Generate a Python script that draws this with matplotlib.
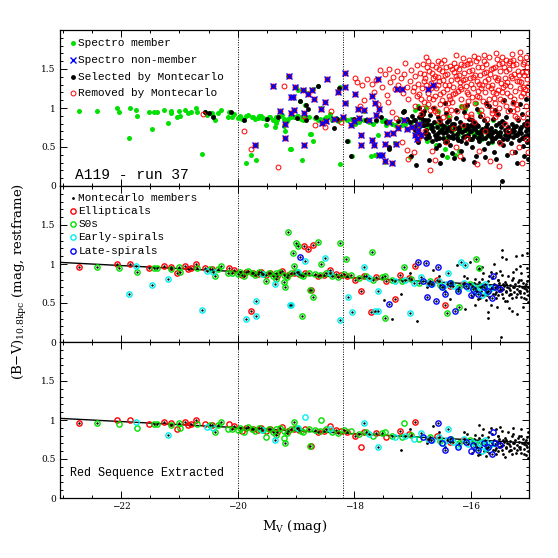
import matplotlib
matplotlib.use('Agg')
import matplotlib.pyplot as plt
from matplotlib.ticker import MultipleLocator, FixedLocator, FormatStrFormatter
import numpy as np

plt.rcParams['font.family'] = 'DejaVu Serif'
plt.rcParams['mathtext.fontset'] = 'dejavuserif'
MONO = 'Liberation Mono'

# spectroscopic members by morphological type (M_V, B-V)
E_mv = [-22.73, -22.08, -21.84, -21.52, -21.27, -21.14, -21.05, -20.90, -20.86, -20.80,
        -20.72, -20.56, -20.44, -20.15, -20.06, -19.92, -19.86, -19.74, -19.66, -19.60,
        -19.52, -19.44, -19.33, -19.24, -19.14, -19.03, -18.95, -18.84, -18.62, -18.52,
        -18.41, -18.31, -18.22, -18.12, -17.98, -17.84, -17.62, -17.46, -17.21, -17.06,
        -16.96, -16.72, -16.58, -16.36, -16.14, -19.78, -18.87, -18.79, -18.71, -18.75,
        -17.89, -17.72, -17.30, -16.45]
E_bv = [0.966, 0.995, 0.995, 0.944, 0.974, 0.960, 0.890, 0.978, 0.930, 0.950,
        1.000, 0.950, 0.940, 0.950, 0.920, 0.860, 0.900, 0.880, 0.870, 0.900,
        0.860, 0.890, 0.840, 0.910, 0.860, 0.880, 0.870, 0.890, 0.850, 0.860,
        0.920, 0.870, 0.860, 0.840, 0.800, 0.850, 0.830, 0.780, 0.860, 0.820,
        0.980, 0.760, 0.790, 0.720, 0.740, 0.395, 1.230, 1.190, 1.240, 0.667,
        0.654, 0.390, 0.547, 0.474]
E_dot = "1000100101" "1010101101" "0110101011" "0101101010" "1101010000" "0000"

S0_mv = [-22.41, -22.03, -21.73, -21.43, -21.39, -21.15, -21.01, -20.99, -20.70, -20.48,
         -20.39, -20.33, -20.28, -20.16, -20.09, -20.00, -19.96, -19.90, -19.82, -19.76,
         -19.70, -19.63, -19.56, -19.47, -19.40, -19.35, -19.28, -19.20, -19.16, -19.08,
         -18.99, -18.92, -18.88, -18.78, -18.68, -18.58, -18.48, -18.38, -18.28, -18.18,
         -18.06, -17.92, -17.80, -17.68, -17.52, -17.35, -17.18, -17.02, -16.88, -16.70,
         -16.52, -16.34, -16.20, -16.02, -15.92, -15.80, -15.70, -19.13, -19.00, -18.97,
         -18.63, -19.05, -18.57, -19.04, -19.20, -19.19, -18.90, -18.71, -18.25, -18.14,
         -17.70, -17.47, -17.47, -17.15, -16.40, -16.20, -15.91, -15.85, -19.51, -19.35,
         -18.76]
S0_bv = [0.966, 0.944, 0.893, 0.944, 0.944, 0.930, 0.960, 0.900, 0.944, 0.930,
         0.846, 0.930, 0.970, 0.890, 0.890, 0.870, 0.900, 0.850, 0.910, 0.880,
         0.860, 0.900, 0.870, 0.890, 0.850, 0.880, 0.900, 0.860, 0.830, 0.880,
         0.900, 0.860, 0.850, 0.880, 0.870, 0.860, 0.880, 0.850, 0.830, 0.870,
         0.860, 0.820, 0.850, 0.800, 0.830, 0.800, 0.780, 0.810, 0.760, 0.780,
         0.730, 0.760, 0.700, 0.740, 0.690, 0.720, 0.660, 1.410, 1.265, 1.230,
         1.280, 1.140, 0.996, 0.980, 0.770, 0.710, 0.330, 0.577, 1.270, 1.060,
         1.158, 0.310, 0.840, 0.960, 0.376, 0.450, 1.060, 0.950, 0.780, 0.810,
         0.666]
S0_dot = "1001111001" "1110101011" "0101101011" "1001101011" "0110110101" \
         "1010101100" "0001010000" "0000000001" "1"

ES_mv = [-21.86, -21.75, -21.47, -21.20, -20.62, -20.52, -20.42, -19.86, -19.69, -19.69,
         -19.36, -19.10, -19.09, -18.85, -18.50, -18.25, -18.10, -18.03, -17.84, -17.65,
         -17.59, -17.59, -17.04, -16.39, -16.17, -16.10, -15.80, -19.58, -18.96, -18.42,
         -17.75, -17.30, -17.12, -16.98, -16.86, -16.74, -16.66, -16.55, -16.48, -16.40,
         -16.30, -16.22, -16.12, -16.05, -15.98, -15.90, -15.84, -15.76, -15.72, -15.66]
ES_bv = [0.615, 0.975, 0.735, 0.810, 0.410, 0.910, 0.900, 0.290, 0.333, 0.520,
         0.750, 0.475, 0.480, 1.040, 1.080, 0.280, 0.580, 0.390, 0.960, 0.400,
         0.400, 0.660, 0.376, 0.880, 1.030, 0.990, 0.600, 0.870, 0.900, 0.880,
         0.820, 0.780, 0.800, 0.760, 0.830, 0.760, 0.740, 0.780, 0.700, 0.750,
         0.720, 0.680, 0.760, 0.690, 0.720, 0.650, 0.700, 0.740, 0.640, 0.690]
ES_dot = "0001000010" "1010101011" "0101010110" "1010110101" "1011010110"

LS_mv = [-18.93, -17.40, -16.90, -16.76, -16.57, -16.75, -16.60, -16.27, -15.61, -15.50,
         -15.63, -16.82, -16.68, -16.50, -16.36, -16.22, -16.08, -15.96, -15.88, -15.78,
         -15.70, -15.58, -16.44, -16.00]
LS_bv = [1.086, 0.490, 1.030, 1.010, 0.966, 0.573, 0.526, 0.397, 0.840, 0.680,
         0.570, 0.780, 0.740, 0.700, 0.760, 0.650, 0.720, 0.680, 0.620, 0.700,
         0.660, 0.710, 0.620, 0.600]
LS_dot = "0000100100" "1010101010" "1010"

# spectroscopic non-members
non_mv = [-19.70, -19.40, -19.28, -19.19, -19.18, -19.12, -19.09, -19.09, -19.01, -18.885,
          -18.73, -18.79, -19.045, -18.69, -18.50, -18.57, -19.03, -18.86, -18.87, -18.47,
          -18.49, -18.55, -18.15, -18.28, -18.15, -17.98, -18.15, -17.59, -17.70, -17.64,
          -17.57, -17.94, -17.83, -17.63, -17.26, -17.18, -16.73, -16.65, -17.88, -17.89,
          -17.70, -17.66, -17.48, -17.58, -17.52, -17.47, -17.35, -17.28, -17.43, -17.33,
          -17.25, -17.10, -16.96, -16.92, -18.06, -18.19, -18.00, -17.75, -17.40, -17.00,
          -16.90, -16.85, -18.35, -17.92, -17.15, -16.88]
non_bv = [0.525, 1.280, 0.965, 0.790, 0.620, 1.410, 1.140, 0.930, 1.265, 1.235,
          1.235, 1.184, 1.136, 1.110, 1.080, 0.990, 0.970, 0.935, 0.530, 1.370,
          0.838, 0.810, 1.450, 1.205, 1.265, 1.180, 1.060, 1.367, 1.160, 1.070,
          0.990, 0.990, 0.970, 0.906, 1.240, 1.240, 1.240, 1.290, 0.660, 0.530,
          0.590, 0.520, 0.538, 0.400, 0.400, 0.316, 0.295, 0.540, 0.670, 0.680,
          0.740, 0.730, 0.650, 0.600, 0.780, 0.890, 0.830, 0.850, 0.820, 0.760,
          0.720, 0.660, 0.860, 0.870, 0.840, 0.800]

# selected by Montecarlo (this run)
sel_mv = [-20.56, -20.42, -20.50, -20.12, -19.90, -19.50, -19.30, -18.99, -18.82, -18.66,
          -18.34, -18.63, -18.93, -18.83, -18.80, -18.26, -18.12, -18.05, -17.54, -17.46,
          -17.03, -16.94, -17.17, -16.89, -17.41, -18.30, -18.00, -17.80, -17.62, -17.40,
          -17.14, -17.25, -17.10, -17.00, -16.97, -16.92, -16.86, -16.84, -16.80, -16.78,
          -16.76, -16.74, -16.72, -16.70, -16.69, -16.67, -16.65, -16.63, -16.62, -16.60,
          -16.58, -16.56, -16.55, -16.53, -16.51, -16.50, -16.48, -16.46, -16.44, -16.43,
          -16.41, -16.39, -16.37, -16.36, -16.34, -16.32, -16.30, -16.29, -16.27, -16.25,
          -16.24, -16.22, -16.20, -16.18, -16.17, -16.15, -16.13, -16.11, -16.10, -16.08,
          -16.06, -16.05, -16.03, -16.01, -15.99, -15.98, -15.96, -15.94, -15.92, -15.91,
          -15.89, -15.87, -15.85, -15.84, -15.82, -15.80, -15.78, -15.77, -15.75, -15.73,
          -15.72, -15.70, -15.68, -15.66, -15.65, -15.63, -15.61, -15.60, -15.58, -15.56,
          -15.55, -15.53, -15.51, -15.50, -15.48, -15.47, -15.46, -15.44, -15.42, -15.41,
          -15.39, -15.37, -15.36, -15.34, -15.32, -15.31, -15.29, -15.27, -15.26, -15.24,
          -15.22, -15.21, -15.19, -15.17, -15.16, -15.14, -15.12, -15.11, -15.09, -15.07,
          -15.06, -15.04, -15.03, -15.02, -15.01, -15.05, -15.15, -15.28, -15.43, -15.59,
          -15.74, -15.90, -16.07, -16.26, -16.45, -16.64, -16.80, -16.71, -16.52, -16.33,
          -16.14, -15.95, -15.76, -15.57, -15.38, -15.20, -15.08, -16.60, -16.40, -16.20,
          -16.00, -15.80, -15.62, -15.45, -15.25, -15.10, -16.68, -16.47, -16.28, -16.09,
          -15.93, -15.71, -15.52, -15.35, -15.18, -15.02, -16.57, -16.38, -16.16, -15.97,
          -15.83, -15.64, -15.49, -15.30, -15.13, -16.75, -16.54, -16.35, -16.12, -15.88,
          -16.98, -16.95, -16.91, -16.88, -16.86, -16.84, -16.82, -16.79, -16.90, -17.05,
          -16.66, -16.59, -16.49, -16.42, -16.31, -16.21, -16.02, -15.86, -15.69, -15.54,
          -15.40, -15.23, -15.06, -16.73, -16.52, -16.40, -16.23, -16.04, -15.90, -15.74,
          -15.58, -15.43, -15.28, -15.12, -16.96, -16.88, -16.82, -16.77, -15.98, -15.66]
sel_bv = [0.950, 0.890, 0.930, 0.950, 0.840, 0.860, 0.880, 0.870, 0.846, 0.880,
          0.740, 1.280, 1.085, 1.034, 0.990, 1.260, 0.580, 0.390, 0.890, 0.820,
          0.380, 0.270, 0.950, 1.000, 0.495, 0.860, 0.860, 0.840, 0.850, 0.480,
          0.960, 0.830, 0.860, 0.900, 0.840, 0.800, 0.880, 0.930, 0.780, 0.840,
          0.720, 0.850, 0.630, 0.910, 0.780, 0.580, 0.700, 0.820, 0.660, 0.490,
          0.750, 0.880, 0.610, 0.710, 0.800, 0.400, 0.680, 0.770, 0.570, 0.930,
          0.730, 0.640, 0.840, 0.520, 0.700, 0.790, 0.620, 0.360, 0.740, 0.870,
          0.670, 0.590, 0.760, 0.820, 0.450, 0.690, 0.630, 0.950, 0.720, 0.550,
          0.780, 0.660, 0.860, 0.600, 0.710, 0.500, 0.750, 0.640, 0.810, 0.380,
          0.690, 0.770, 0.580, 0.900, 0.660, 0.730, 0.470, 0.840, 0.620, 0.700,
          0.790, 0.550, 1.020, 0.670, 0.740, 0.610, 0.860, 0.430, 0.710, 0.780,
          0.640, 0.920, 0.570, 0.690, 0.760, 0.060, 0.830, 0.520, 0.720, 0.650,
          0.880, 0.600, 0.750, 0.680, 0.970, 0.550, 0.800, 0.630, 0.710, 0.440,
          0.770, 0.660, 0.850, 0.590, 0.730, 0.680, 0.920, 0.510, 0.790, 0.640,
          0.700, 0.830, 0.570, 0.740, 0.350, 1.120, 1.050, 1.080, 1.100, 0.980,
          1.060, 0.990, 1.040, 0.970, 1.070, 1.000, 0.960, 0.330, 0.300, 0.420,
          0.340, 0.310, 0.370, 0.340, 0.400, 0.300, 0.390, 0.600, 0.820, 0.700,
          0.780, 0.620, 0.690, 0.600, 0.760, 0.610, 0.740, 0.620, 0.800, 0.640,
          0.730, 0.660, 0.810, 0.640, 0.690, 0.660, 0.680, 0.760, 0.580, 0.850,
          0.700, 0.580, 0.640, 0.720, 0.750, 0.800, 0.530, 0.630, 0.780, 0.610,
          0.760, 0.840, 0.700, 0.890, 0.640, 0.780, 0.920, 0.680, 0.560, 0.820,
          0.760, 0.640, 0.730, 0.690, 0.660, 0.730, 0.700, 0.680, 0.720, 0.680,
          0.700, 0.650, 0.770, 0.670, 0.840, 0.580, 0.620, 0.740, 0.780, 0.750,
          0.620, 0.810, 0.690, 0.620, 0.720, 0.680, 0.840, 0.620, 0.600, 0.630]

# removed by Montecarlo (this run)
rem_mv = [-20.60, -19.90, -19.78, -19.30, -19.21, -18.67, -18.51, -18.87, -18.40, -18.22,
          -17.98, -17.96, -17.86, -17.84, -17.78, -17.70, -17.66, -17.62, -17.56, -17.52,
          -17.47, -17.44, -17.40, -17.38, -17.34, -17.30, -17.27, -17.24, -17.20, -17.17,
          -17.14, -17.10, -17.07, -17.04, -17.02, -16.99, -16.96, -16.93, -16.90, -16.87,
          -17.42, -17.36, -17.28, -17.25, -17.10, -17.18, -17.07, -16.70, -17.90, -17.60,
          -16.84, -16.82, -16.80, -16.78, -16.76, -16.74, -16.72, -16.70, -16.68, -16.66,
          -16.64, -16.62, -16.60, -16.58, -16.56, -16.54, -16.52, -16.50, -16.48, -16.46,
          -16.44, -16.42, -16.40, -16.38, -16.36, -16.34, -16.32, -16.30, -16.28, -16.26,
          -16.24, -16.22, -16.20, -16.18, -16.16, -16.14, -16.12, -16.10, -16.08, -16.06,
          -16.04, -16.02, -16.00, -15.98, -15.96, -15.94, -15.92, -15.90, -15.88, -15.86,
          -15.84, -15.82, -15.80, -15.78, -15.76, -15.74, -15.72, -15.70, -15.68, -15.66,
          -15.64, -15.62, -15.60, -15.58, -15.56, -15.54, -15.52, -15.50, -15.48, -15.46,
          -15.44, -15.42, -15.40, -15.38, -15.36, -15.34, -15.32, -15.30, -15.28, -15.26,
          -15.24, -15.22, -15.20, -15.18, -15.16, -15.14, -15.12, -15.10, -15.08, -15.06,
          -15.04, -15.03, -15.02, -15.01, -15.05, -15.15, -15.33, -15.55, -15.78, -16.03,
          -16.83, -16.77, -16.71, -16.65, -16.59, -16.53, -16.47, -16.41, -16.35, -16.29,
          -16.23, -16.17, -16.11, -16.05, -15.99, -15.93, -15.87, -15.81, -15.75, -15.69,
          -15.63, -15.57, -15.51, -15.45, -15.39, -15.33, -15.27, -15.21, -15.15, -15.09,
          -16.81, -16.75, -16.69, -16.63, -16.57, -16.51, -16.45, -16.39, -16.33, -16.27,
          -16.21, -16.15, -16.09, -16.03, -15.97, -15.91, -15.85, -15.79, -15.73, -15.67,
          -15.61, -15.55, -15.49, -15.43, -15.37, -15.31, -15.25, -15.19, -15.13, -15.07,
          -16.79, -16.66, -16.55, -16.42, -16.31, -16.19, -16.07, -15.95, -15.86, -15.76,
          -15.67, -15.59, -15.49, -15.41, -15.30, -15.21, -15.12, -15.05, -15.02, -16.90,
          -16.97, -16.61, -16.25, -15.90, -15.52, -15.17, -16.48, -16.14, -15.72, -15.36,
          -16.86, -16.37, -15.99, -15.64, -15.24, -15.03, -16.73, -16.25, -15.46, -15.11,
          -16.95, -16.89, -16.81, -16.74, -16.67, -16.61, -16.56, -16.49, -16.43, -16.37,
          -16.31, -16.26, -16.19, -16.13, -16.07, -16.01, -15.96, -15.89, -15.83, -15.77,
          -15.71, -15.65, -15.59, -15.53, -15.47, -15.41, -15.35, -15.29, -15.23, -15.17,
          -15.11, -15.05, -15.02, -15.27, -15.58, -15.87, -16.17, -16.55, -16.92, -17.12,
          -16.98, -16.85, -16.62, -16.34, -16.08, -15.81, -15.55, -15.28, -15.10, -15.40]
rem_bv = [0.920, 0.705, 0.475, 0.240, 1.285, 0.787, 0.750, 0.900, 0.960, 0.820,
          1.380, 1.330, 1.290, 1.100, 1.370, 1.310, 1.200, 1.360, 1.490, 1.270,
          1.440, 1.170, 1.500, 1.330, 1.400, 1.240, 1.470, 1.300, 1.380, 1.190,
          1.430, 1.270, 1.120, 1.350, 1.490, 1.220, 1.410, 1.150, 1.310, 1.450,
          1.080, 0.950, 0.870, 0.760, 0.460, 0.570, 0.350, 0.210, 1.020, 1.050,
          1.260, 1.560, 1.080, 1.380, 1.660, 1.190, 1.470, 0.980, 1.320, 1.550,
          1.120, 1.410, 1.250, 0.930, 1.600, 1.350, 1.050, 1.480, 1.210, 1.620,
          1.300, 0.990, 1.440, 1.160, 1.540, 1.360, 1.080, 1.270, 1.580, 1.410,
          0.960, 1.220, 1.500, 1.330, 1.110, 1.640, 1.450, 1.020, 1.280, 1.560,
          1.180, 1.380, 0.920, 1.490, 1.250, 1.670, 1.060, 1.350, 1.530, 1.140,
          1.420, 0.980, 1.300, 1.600, 1.200, 1.460, 1.040, 1.370, 1.660, 1.260,
          0.940, 1.510, 1.130, 1.400, 1.700, 1.230, 1.000, 1.470, 1.320, 1.580,
          1.090, 1.390, 1.620, 1.190, 0.960, 1.500, 1.280, 1.690, 1.070, 1.430,
          1.220, 1.560, 0.990, 1.350, 1.640, 1.150, 1.460, 1.270, 1.590, 1.030,
          1.370, 1.520, 1.180, 0.930, 1.650, 1.720, 1.600, 1.630, 1.680, 1.610,
          1.000, 1.300, 1.130, 1.390, 1.520, 1.180, 1.360, 1.240, 1.120, 1.460,
          1.370, 1.240, 1.550, 1.090, 1.310, 1.420, 1.220, 1.520, 1.340, 1.120,
          1.300, 1.190, 1.560, 1.270, 1.480, 1.160, 1.550, 1.340, 1.250, 1.420,
          1.430, 1.520, 1.250, 1.000, 1.290, 1.580, 1.420, 1.060, 1.500, 1.190,
          1.420, 1.010, 1.370, 1.480, 1.140, 1.600, 1.310, 1.090, 1.560, 1.440,
          1.210, 1.360, 1.120, 1.530, 1.330, 1.410, 1.120, 1.470, 1.330, 1.240,
          0.700, 0.450, 0.830, 0.560, 0.740, 0.380, 0.620, 0.820, 0.450, 0.710,
          0.320, 0.880, 0.550, 0.790, 0.430, 0.870, 0.290, 0.600, 0.430, 0.600,
          0.430, 0.330, 0.500, 0.280, 0.250, 0.500, 0.880, 0.780, 0.860, 0.700,
          0.920, 0.900, 0.880, 0.970, 0.900, 0.800, 1.600, 1.680, 1.660, 1.560,
          1.020, 1.180, 1.340, 1.050, 1.450, 1.160, 1.400, 1.100, 1.520, 1.300,
          1.180, 1.520, 1.270, 1.360, 1.200, 1.580, 1.400, 1.160, 1.260, 1.450,
          1.280, 1.500, 1.060, 1.380, 1.200, 1.300, 1.580, 1.380, 1.050, 1.420,
          1.190, 1.460, 1.280, 1.620, 1.520, 1.640, 1.570, 1.500, 1.550, 1.580,
          1.270, 1.120, 0.960, 0.980, 0.900, 0.910, 0.920, 0.960, 0.880, 1.020]

# Montecarlo members without spectroscopy (final membership)
mc_mv = [-15.98, -15.95, -15.93, -15.90, -15.88, -15.86, -15.83, -15.81, -15.79, -15.77,
         -15.75, -15.73, -15.71, -15.69, -15.67, -15.66, -15.64, -15.62, -15.60, -15.59,
         -15.57, -15.55, -15.54, -15.52, -15.50, -15.49, -15.47, -15.45, -15.44, -15.42,
         -15.41, -15.39, -15.38, -15.36, -15.35, -15.33, -15.32, -15.30, -15.29, -15.27,
         -15.26, -15.24, -15.23, -15.21, -15.20, -15.18, -15.17, -15.15, -15.14, -15.12,
         -15.11, -15.09, -15.08, -15.06, -15.05, -15.03, -15.02, -15.01, -15.02, -15.04,
         -15.13, -15.28, -15.37, -15.46, -15.56, -15.65, -15.74, -15.85, -15.96, -15.61,
         -15.53, -15.43, -15.34, -15.25, -15.16, -15.07, -15.19, -15.31, -15.40, -15.51,
         -17.49, -17.36, -16.93, -16.24, -16.02, -15.47, -15.40, -15.04, -15.48, -15.70,
         -15.70, -16.10, -15.30, -15.20, -15.55, -15.15, -15.60, -16.35, -16.55, -16.75,
         -17.20, -16.12, -15.85, -15.10, -15.35, -16.65, -17.05, -16.45, -15.92, -15.65,
         -15.97, -15.94, -15.91, -15.87, -15.84, -15.80, -15.76, -15.72, -15.68, -15.63,
         -15.58, -15.53, -15.48, -15.45, -15.39, -15.33, -15.27, -15.22, -15.18, -15.13,
         -15.09, -15.05, -15.03, -15.01, -15.12, -15.22, -15.47, -15.57, -15.81, -16.06]
mc_bv = [0.74, 0.62, 0.81, 0.69, 0.55, 0.77, 0.66, 0.72, 0.88, 0.60,
         0.70, 0.64, 0.78, 0.58, 0.73, 0.67, 0.82, 0.61, 0.75, 0.69,
         0.56, 0.72, 0.79, 0.65, 0.70, 0.91, 0.62, 0.74, 0.68, 0.53,
         0.77, 0.66, 0.71, 0.85, 0.60, 0.73, 0.67, 0.79, 0.57, 0.70,
         0.64, 0.75, 0.93, 0.68, 0.61, 0.72, 0.80, 0.66, 0.58, 0.70,
         0.76, 0.63, 0.69, 0.55, 0.74, 0.66, 0.84, 0.60, 0.51, 0.95,
         0.88, 0.90, 0.52, 0.86, 0.64, 0.90, 0.54, 0.63, 0.70, 0.68,
         0.60, 0.72, 0.69, 0.71, 0.63, 0.72, 0.77, 0.62, 0.64, 0.76,
         0.54, 0.29, 0.27, 0.99, 1.02, 1.09, 1.07, 1.14, 0.06, 0.39,
         0.31, 0.42, 0.40, 0.36, 0.45, 0.98, 1.00, 0.55, 0.85, 0.70,
         0.62, 0.84, 0.93, 0.45, 0.44, 0.92, 0.88, 0.65, 0.48, 0.47,
         0.58, 0.76, 0.66, 0.72, 0.57, 0.81, 0.67, 0.60, 0.84, 0.71,
         0.62, 0.80, 0.67, 0.57, 0.75, 0.62, 0.82, 0.58, 0.66, 0.79,
         0.57, 0.68, 0.78, 0.70, 1.12, 1.10, 1.18, 0.88, 0.96, 0.82]

# colour-magnitude relation and extraction half-width
FIT_A = 0.122
FIT_B = -0.039
RS_HALF = 0.2
MAG_CUTS = [-20.0, -18.2]

GREEN = '#00e000'
CYAN = '#00f0f0'
TYPES = [(E_mv, E_bv, E_dot, 'red'),
         (S0_mv, S0_bv, S0_dot, GREEN),
         (ES_mv, ES_bv, ES_dot, CYAN),
         (LS_mv, LS_bv, LS_dot, 'blue')]


def style_axis(ax, show_x):
    ax.set_xlim(-23.05, -15.0)
    ax.set_ylim(0, 2)
    ax.xaxis.set_major_locator(MultipleLocator(2))
    ax.xaxis.set_minor_locator(MultipleLocator(0.5))
    ax.yaxis.set_major_locator(FixedLocator([0, 0.5, 1, 1.5]))
    ax.yaxis.set_minor_locator(MultipleLocator(0.1))
    ax.yaxis.set_major_formatter(FormatStrFormatter('%g'))
    ax.tick_params(which='both', direction='in', top=True, right=True, width=0.7)
    ax.tick_params(which='major', length=5, labelsize=6.5, pad=3)
    ax.tick_params(which='minor', length=2.5)
    if not show_x:
        ax.tick_params(labelbottom=False)
    for s in ax.spines.values():
        s.set_linewidth(0.9)
    for m in MAG_CUTS:
        ax.axvline(m, color='k', ls=(0, (1, 1.5)), lw=0.7, zorder=1)


def legend_row(ax, y, text, **mk):
    ax.plot([0.027], [y], transform=ax.transAxes, ls='none', clip_on=False, **mk)
    ax.text(0.039, y, text, transform=ax.transAxes, va='center', ha='left',
            fontsize=8, family=MONO)


def fit(mv):
    return FIT_A + FIT_B * np.asarray(mv)


fig = plt.figure(figsize=(5.58, 5.58), dpi=100)
L, R = 60 / 558, 529 / 558
H = 156 / 558
ax1 = fig.add_axes([L, 1 - 186 / 558, R - L, H])
ax2 = fig.add_axes([L, 1 - 342 / 558, R - L, H])
ax3 = fig.add_axes([L, 1 - 498 / 558, R - L, H])

RING = dict(ms=3.8, mfc='none', mew=1.0)

# --- panel 1: spectroscopy vs Montecarlo selection
spec_mv = E_mv + S0_mv + ES_mv + LS_mv
spec_bv = E_bv + S0_bv + ES_bv + LS_bv
ax1.plot(spec_mv, spec_bv, 'o', ms=3.6, color=GREEN, mec='none', zorder=2)
ax1.plot(sel_mv, sel_bv, 'o', ms=3.5, color='k', mec='none', zorder=3)
ax1.plot(rem_mv, rem_bv, 'o', ms=3.5, mfc='none', mec='red', mew=0.7, zorder=4)
ax1.plot(non_mv, non_bv, 'o', ms=3.5, color='#000050', mec='red', mew=0.7, zorder=5)
ax1.plot(non_mv, non_bv, 'x', ms=3.8, color='blue', mew=1.0, zorder=6)
style_axis(ax1, False)
legend_row(ax1, 0.915, 'Spectro member', marker='o', ms=3.6, color=GREEN, mec='none')
legend_row(ax1, 0.808, 'Spectro non-member', marker='x', ms=3.8, color='blue', mew=1.0)
legend_row(ax1, 0.701, 'Selected by Montecarlo', marker='o', ms=3.5, color='k', mec='none')
legend_row(ax1, 0.594, 'Removed by Montecarlo', marker='o', ms=3.5, mfc='none', mec='red', mew=0.7)
ax1.text(0.032, 0.025, 'A119 - run 37', transform=ax1.transAxes, fontsize=10.5,
         family=MONO, ha='left', va='bottom')

# --- panel 2: morphology of members
xl = np.array([-23.05, -15.0])
ax2.plot(xl, fit(xl), color='k', lw=1.0, zorder=1.5)
ax2.plot(mc_mv, mc_bv, 'o', ms=2.0, color='k', mec='none', zorder=3)
for mv, bv, dot, col in TYPES:
    ax2.plot(mv, bv, 'o', mec=col, zorder=4, **RING)
    ax2.plot(mv, bv, 'o', ms=1.7, color='k', mec='none', zorder=5)
style_axis(ax2, False)
legend_row(ax2, 0.925, 'Montecarlo members', marker='o', ms=2.0, color='k', mec='none')
legend_row(ax2, 0.840, 'Ellipticals', marker='o', mec='red', **RING)
legend_row(ax2, 0.755, 'S0s', marker='o', mec=GREEN, **RING)
legend_row(ax2, 0.670, 'Early-spirals', marker='o', mec=CYAN, **RING)
legend_row(ax2, 0.585, 'Late-spirals', marker='o', mec='blue', **RING)

# --- panel 3: red sequence extraction
ax3.plot(xl, fit(xl), color='k', lw=1.0, zorder=1.5)
mcx = np.array(mc_mv)
mcy = np.array(mc_bv)
keep = np.abs(mcy - fit(mcx)) < RS_HALF
ax3.plot(mcx[keep], mcy[keep], 'o', ms=2.0, color='k', mec='none', zorder=3)
for mv, bv, dot, col in TYPES:
    x = np.array(mv)
    y = np.array(bv)
    d = np.array([c == '1' for c in dot])
    k = np.abs(y - fit(x)) < RS_HALF
    ax3.plot(x[k], y[k], 'o', mec=col, zorder=4, **RING)
    ax3.plot(x[k & d], y[k & d], 'o', ms=1.7, color='k', mec='none', zorder=5)
style_axis(ax3, True)
ax3.text(0.021, 0.143, 'Red Sequence Extracted', transform=ax3.transAxes, fontsize=8.5,
         family=MONO, ha='left', va='baseline')

ax3.set_xlabel(r'M$_{\rm V}$ (mag)', fontsize=9.5, labelpad=5)
fig.text(20 / 558, 1 - 282 / 558, r'(B$-$V)$_{\rm 10.8kpc}$ (mag, restframe)',
         rotation=90, ha='center', va='center', fontsize=9.5)

fig.savefig('out.png', dpi=100)
